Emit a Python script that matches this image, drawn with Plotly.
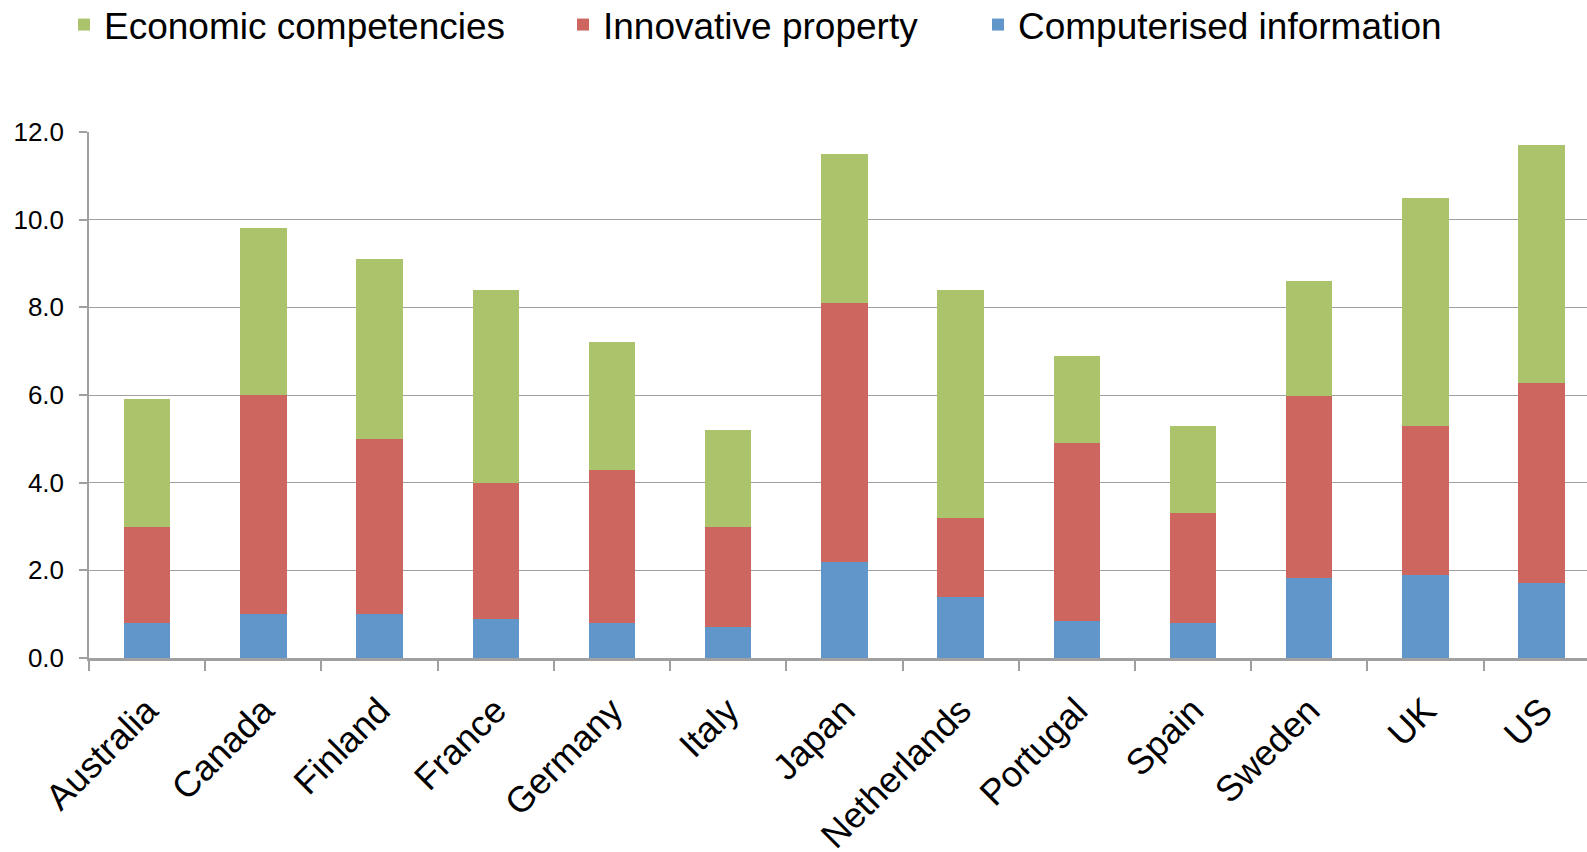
import plotly.graph_objects as go

countries = ["Australia", "Canada", "Finland", "France", "Germany", "Italy", "Japan",
             "Netherlands", "Portugal", "Spain", "Sweden", "UK", "US"]
computerised = [0.8, 1.0, 1.0, 0.9, 0.8, 0.7, 2.2, 1.4, 0.85, 0.8, 1.82, 1.9, 1.7]
innovative = [2.2, 5.0, 4.0, 3.1, 3.5, 2.3, 5.9, 1.8, 4.05, 2.5, 4.16, 3.4, 4.57]
economic = [2.9, 3.8, 4.1, 4.4, 2.9, 2.2, 3.4, 5.2, 2.0, 2.0, 2.62, 5.2, 5.43]
y_ticks = [0, 2, 4, 6, 8, 10, 12]

BLUE = "#6096C9"
RED = "#CE6660"
GREEN = "#ABC46C"
FONT = "Liberation Sans"

fig = go.Figure()
fig.add_trace(go.Bar(x=countries, y=computerised, name="Computerised information",
                     marker=dict(color=BLUE, line=dict(width=0)), width=0.4, legend="legend3"))
fig.add_trace(go.Bar(x=countries, y=innovative, name="Innovative property",
                     marker=dict(color=RED, line=dict(width=0)), width=0.4, legend="legend2"))
fig.add_trace(go.Bar(x=countries, y=economic, name="Economic competencies",
                     marker=dict(color=GREEN, line=dict(width=0)), width=0.4, legend="legend"))

W, H = 1587, 852
legend_common = dict(orientation="h", xref="container", yref="container",
                     yanchor="middle", xanchor="left",
                     font=dict(family=FONT, size=37, color="black"),
                     bgcolor="rgba(0,0,0,0)", borderwidth=0)

fig.update_layout(
    width=W, height=H,
    barmode="stack",
    plot_bgcolor="white", paper_bgcolor="white",
    margin=dict(l=89, r=0, t=132, b=194),
    legend=dict(x=(106 - 42) / W, y=1 - 25 / H, **legend_common),
    legend2=dict(x=(605 - 42) / W, y=1 - 25 / H, **legend_common),
    legend3=dict(x=(1020 - 42) / W, y=1 - 25 / H, **legend_common),
    xaxis=dict(
        type="category", range=[-0.5, 12.39], automargin=False,
        tickangle=-45, tickfont=dict(family=FONT, size=36, color="black"),
        ticklabelstandoff=14,
        ticks="outside", tickson="boundaries", ticklen=10, tickwidth=2, tickcolor="#A0A0A0",
        showline=True, linecolor="#A0A0A0", linewidth=3,
        showgrid=False,
    ),
    yaxis=dict(
        range=[0, 12], tickvals=y_ticks, tickformat=".1f", automargin=False,
        tickfont=dict(family=FONT, size=26, color="black"),
        ticklabelstandoff=10,
        ticks="outside", ticklen=8, tickwidth=1.5, tickcolor="#A0A0A0",
        showline=True, linecolor="#A0A0A0", linewidth=1.5,
        showgrid=True, gridcolor="#A0A0A0", gridwidth=1.2,
        zeroline=False,
    ),
    showlegend=True,
)

fig.write_html("out.html")
